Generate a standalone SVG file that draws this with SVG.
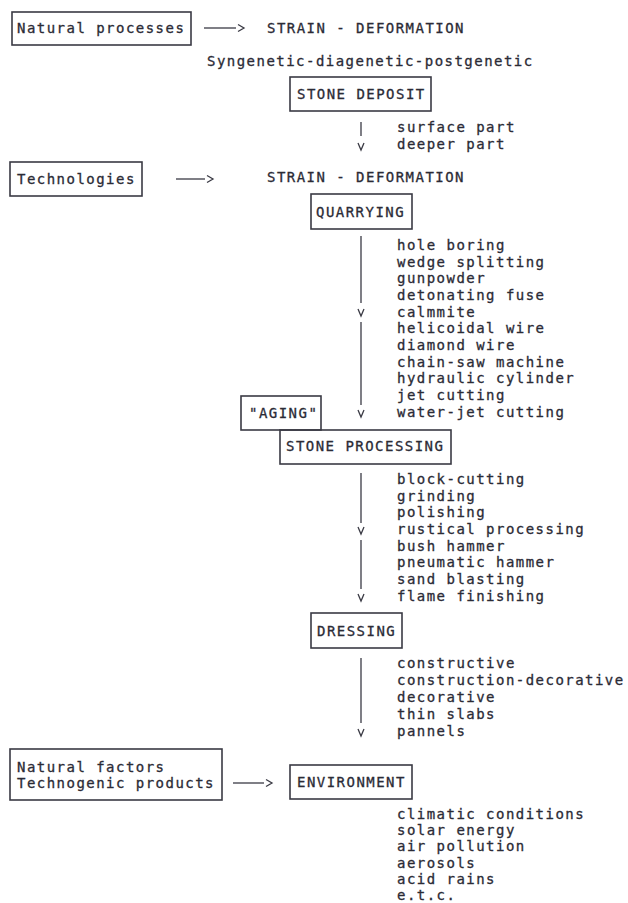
<svg xmlns="http://www.w3.org/2000/svg" width="628" height="903" viewBox="0 0 628 903">
<style>
  text { font-family: "DejaVu Sans Mono", "Liberation Mono", monospace; font-size: 14px; letter-spacing: 1.47px; fill: #2b2b36; stroke: #2b2b36; stroke-width: 0.3; }
  .box { fill: none; stroke: #3a3a44; stroke-width: 1.6; }
  .cn { fill: none; stroke: #3a3a44; stroke-width: 1.3; }
  .hd { fill: none; stroke: #3a3a44; stroke-width: 1.3; stroke-linejoin: miter; }
</style>
<rect width="628" height="903" fill="#ffffff"/>

<g id="natural-processes">
  <rect class="box" x="12" y="12" width="179" height="33"/>
  <text x="17" y="33">Natural processes</text>
</g>
<g id="strain-1">
  <text x="267" y="33">STRAIN - DEFORMATION</text>
</g>
<g id="genesis">
  <text x="207" y="66">Syngenetic-diagenetic-postgenetic</text>
</g>
<g id="stone-deposit">
  <rect class="box" x="290" y="77" width="141" height="34"/>
  <text x="297" y="99">STONE DEPOSIT</text>
</g>
<g id="deposit-parts">
  <text x="397" y="132">surface part</text>
  <text x="397" y="149">deeper part</text>
</g>
<g id="technologies">
  <rect class="box" x="10" y="162" width="132" height="34"/>
  <text x="17" y="184">Technologies</text>
</g>
<g id="strain-2">
  <text x="267" y="182">STRAIN - DEFORMATION</text>
</g>
<g id="quarrying">
  <rect class="box" x="311" y="194" width="101" height="35"/>
  <text x="316" y="217">QUARRYING</text>
</g>
<g id="quarrying-methods">
  <text x="397" y="250">hole boring</text>
  <text x="397" y="266.7">wedge splitting</text>
  <text x="397" y="283.3">gunpowder</text>
  <text x="397" y="300">detonating fuse</text>
  <text x="397" y="316.7">calmmite</text>
  <text x="397" y="333.3">helicoidal wire</text>
  <text x="397" y="350">diamond wire</text>
  <text x="397" y="366.7">chain-saw machine</text>
  <text x="397" y="383.3">hydraulic cylinder</text>
  <text x="397" y="400">jet cutting</text>
  <text x="397" y="416.7">water-jet cutting</text>
</g>
<g id="aging">
  <rect class="box" x="241" y="396" width="80" height="34"/>
  <text x="249" y="418">"AGING"</text>
</g>
<g id="stone-processing">
  <rect class="box" x="280" y="430" width="171" height="34"/>
  <text x="286" y="451">STONE PROCESSING</text>
</g>
<g id="processing-methods">
  <text x="397" y="484">block-cutting</text>
  <text x="397" y="500.7">grinding</text>
  <text x="397" y="517.3">polishing</text>
  <text x="397" y="534">rustical processing</text>
  <text x="397" y="550.7">bush hammer</text>
  <text x="397" y="567.3">pneumatic hammer</text>
  <text x="397" y="584">sand blasting</text>
  <text x="397" y="600.7">flame finishing</text>
</g>
<g id="dressing">
  <rect class="box" x="311" y="613" width="91" height="35"/>
  <text x="317" y="636">DRESSING</text>
</g>
<g id="dressing-types">
  <text x="397" y="668">constructive</text>
  <text x="397" y="684.9">construction-decorative</text>
  <text x="397" y="701.8">decorative</text>
  <text x="397" y="718.7">thin slabs</text>
  <text x="397" y="735.6">pannels</text>
</g>
<g id="natural-factors">
  <rect class="box" x="10" y="749" width="212" height="51"/>
  <text x="17" y="772">Natural factors</text>
  <text x="17" y="788">Technogenic products</text>
</g>
<g id="environment">
  <rect class="box" x="290" y="765" width="122" height="34"/>
  <text x="297" y="787">ENVIRONMENT</text>
</g>
<g id="environment-factors">
  <text x="397" y="819">climatic conditions</text>
  <text x="397" y="835.2">solar energy</text>
  <text x="397" y="851.4">air pollution</text>
  <text x="397" y="867.6">aerosols</text>
  <text x="397" y="883.8">acid rains</text>
  <text x="397" y="900">e.t.c.</text>
</g>

<g id="connectors">
  <line class="cn" x1="204" y1="28" x2="236" y2="28"/>
  <path class="hd" d="M238,24.5 L244,28 L238,31.5"/>
  <line class="cn" x1="176" y1="179" x2="205" y2="179"/>
  <path class="hd" d="M207,175.5 L213,179 L207,182.5"/>
  <line class="cn" x1="233" y1="783" x2="264" y2="783"/>
  <path class="hd" d="M266,779.5 L272,783 L266,786.5"/>

  <line class="cn" x1="361" y1="122" x2="361" y2="136"/>
  <path class="hd" d="M358,143 L361,150 L364,143"/>
  <line class="cn" x1="361" y1="236" x2="361" y2="303"/>
  <path class="hd" d="M358,309 L361,316 L364,309"/>
  <line class="cn" x1="361" y1="322" x2="361" y2="405"/>
  <path class="hd" d="M358,410 L361,417 L364,410"/>
  <line class="cn" x1="361" y1="473" x2="361" y2="523"/>
  <path class="hd" d="M358,527 L361,534 L364,527"/>
  <line class="cn" x1="361" y1="540" x2="361" y2="589"/>
  <path class="hd" d="M358,594 L361,601 L364,594"/>
  <line class="cn" x1="361" y1="658" x2="361" y2="723"/>
  <path class="hd" d="M358,729 L361,736 L364,729"/>
</g>
</svg>
